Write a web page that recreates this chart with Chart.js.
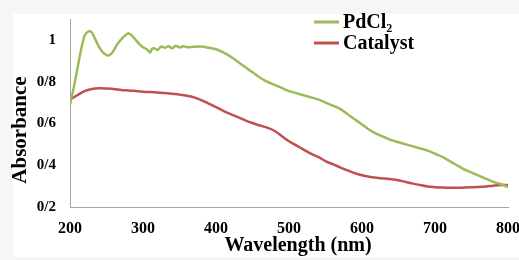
<!DOCTYPE html>
<html>
<head>
<meta charset="utf-8">
<script src="https://cdn.jsdelivr.net/npm/chart.js@4"></script>
<style>
  html, body { margin: 0; padding: 0; background: #f6f6f6; }
  #wrap { position: relative; width: 519px; height: 260px; }
</style>
</head>
<body>
<div id="wrap"><canvas id="myChart" width="519" height="260"></canvas></div>
<script>
// data
const pdcl2Wavelengths = [200, 205, 210, 215, 220, 226, 230, 235, 240, 245, 252, 258, 265, 272, 280, 285, 290, 295, 300, 305, 310, 312, 315, 320, 325, 330, 335, 340, 345, 350, 355, 360, 370, 380, 390, 400, 410, 420, 430, 440, 450, 460, 470, 480, 490, 500, 510, 520, 530, 540, 550, 560, 570, 580, 590, 600, 610, 620, 630, 640, 650, 660, 670, 680, 690, 700, 710, 720, 730, 740, 750, 760, 770, 780, 790, 800];
const pdcl2Absorbance = [0.69, 0.77, 0.86, 0.95, 1.02, 1.042, 1.035, 1.0, 0.965, 0.94, 0.925, 0.94, 0.98, 1.01, 1.032, 1.02, 1.0, 0.98, 0.965, 0.955, 0.94, 0.955, 0.96, 0.952, 0.968, 0.962, 0.97, 0.96, 0.972, 0.964, 0.97, 0.965, 0.967, 0.968, 0.962, 0.955, 0.94, 0.92, 0.895, 0.87, 0.845, 0.82, 0.80, 0.785, 0.77, 0.755, 0.745, 0.735, 0.725, 0.715, 0.70, 0.685, 0.67, 0.645, 0.62, 0.595, 0.57, 0.55, 0.535, 0.52, 0.51, 0.50, 0.49, 0.48, 0.47, 0.455, 0.44, 0.42, 0.40, 0.38, 0.365, 0.35, 0.335, 0.32, 0.31, 0.295];

const catalystWavelengths = [200, 210, 220, 230, 240, 250, 260, 270, 280, 290, 300, 310, 320, 330, 340, 350, 360, 370, 380, 390, 400, 410, 420, 430, 440, 450, 460, 470, 480, 490, 500, 510, 520, 530, 540, 550, 560, 570, 580, 590, 600, 610, 620, 630, 640, 650, 660, 670, 680, 690, 700, 710, 720, 730, 740, 750, 760, 770, 780, 790, 800];
const catalystAbsorbance = [0.715, 0.735, 0.755, 0.765, 0.768, 0.767, 0.765, 0.76, 0.758, 0.755, 0.752, 0.75, 0.748, 0.746, 0.742, 0.738, 0.733, 0.725, 0.712, 0.695, 0.678, 0.66, 0.645, 0.63, 0.615, 0.602, 0.59, 0.58, 0.565, 0.54, 0.515, 0.495, 0.475, 0.455, 0.44, 0.42, 0.405, 0.39, 0.375, 0.362, 0.352, 0.345, 0.34, 0.336, 0.333, 0.328, 0.32, 0.312, 0.305, 0.298, 0.295, 0.293, 0.292, 0.292, 0.293, 0.294, 0.296, 0.298, 0.302, 0.305, 0.305];

const seriesNames = ['PdCl₂', 'Catalyst'];
const yTickValues = [0.2, 0.4, 0.6, 0.8, 1];
const yTickLabels = ['0/2', '0/4', '0/6', '0/8', '1'];
const xTickLabels = ['200', '300', '400', '500', '600', '700', '800'];

const serif = "'Liberation Serif', 'Times New Roman', serif";

function toPoints(xs, ys) {
  return xs.map(function(x, i) { return { x: x, y: ys[i] }; });
}

// white page box, axis titles and the legend drawn on the canvas
const decorations = {
  id: 'decorations',
  beforeDraw: function(chart) {
    const c = chart.ctx;
    c.save();
    c.fillStyle = '#ffffff';
    c.fillRect(13, 14, 506, 243);
    c.restore();
  },
  afterDraw: function(chart) {
    const c = chart.ctx;
    c.save();
    c.fillStyle = '#000';
    c.textAlign = 'center';
    c.textBaseline = 'middle';
    c.font = 'bold 20px ' + serif;
    c.fillText('Wavelength (nm)', 298, 246);
    c.translate(21, 130);
    c.rotate(-Math.PI / 2);
    c.font = 'bold 21px ' + serif;
    c.fillText('Absorbance', 0, 0);
    c.restore();

    c.save();
    chart.data.datasets.forEach(function(ds, i) {
      const y = 22 + i * 21;
      c.strokeStyle = ds.borderColor;
      c.lineWidth = 3;
      c.beginPath();
      c.moveTo(314, y);
      c.lineTo(339, y);
      c.stroke();
      c.fillStyle = '#000';
      c.font = 'bold 20px ' + serif;
      c.textAlign = 'left';
      c.textBaseline = 'middle';
      c.fillText(ds.label, 343, y + 1);
    });
    c.restore();
  }
};

const ctx = document.getElementById('myChart').getContext('2d');

const chart = new Chart(ctx, {
  type: 'line',
  data: {
    datasets: [{
      label: seriesNames[0],
      data: toPoints(pdcl2Wavelengths, pdcl2Absorbance),
      borderColor: '#9BBB59',
      borderWidth: 2.5,
      pointRadius: 0,
      tension: 0.25
    },
    {
      label: seriesNames[1],
      data: toPoints(catalystWavelengths, catalystAbsorbance),
      borderColor: '#C0504D',
      borderWidth: 2.5,
      pointRadius: 0,
      tension: 0.3
    }]
  },
  options: {
    responsive: false,
    animation: false,
    layout: { padding: { left: 0, right: 11, top: 19, bottom: 0 } },
    plugins: {
      legend: { display: false },
      tooltip: { enabled: false }
    },
    scales: {
      x: {
        type: 'linear',
        min: 200,
        max: 800,
        afterFit: function(scale) {
          scale.height = 53;
          scale.paddingLeft = 0;
          scale.paddingRight = 0;
        },
        grid: { display: false, drawTicks: false },
        border: { color: '#a6a6a6', width: 1 },
        ticks: {
          stepSize: 100,
          padding: 12,
          color: '#000',
          font: { family: serif, size: 16, weight: 'bold' },
          callback: function(v) {
            const i = xTickLabels.indexOf(String(v));
            return i >= 0 ? xTickLabels[i] : '';
          }
        }
      },
      y: {
        min: 0.2,
        max: 1.1,
        afterFit: function(scale) {
          scale.width = 70;
          scale.paddingTop = 0;
          scale.paddingBottom = 0;
        },
        afterBuildTicks: function(scale) {
          scale.ticks = yTickValues.map(function(v) { return { value: v }; });
        },
        grid: { display: false, drawTicks: false },
        border: { color: '#a6a6a6', width: 1 },
        ticks: {
          padding: 14,
          color: '#000',
          font: { family: serif, size: 15, weight: 'bold' },
          callback: function(v) {
            const i = yTickValues.findIndex(function(t) { return Math.abs(t - v) < 1e-6; });
            return i >= 0 ? yTickLabels[i] : '';
          }
        }
      }
    }
  },
  plugins: [decorations]
});
</script>
</body>
</html>
